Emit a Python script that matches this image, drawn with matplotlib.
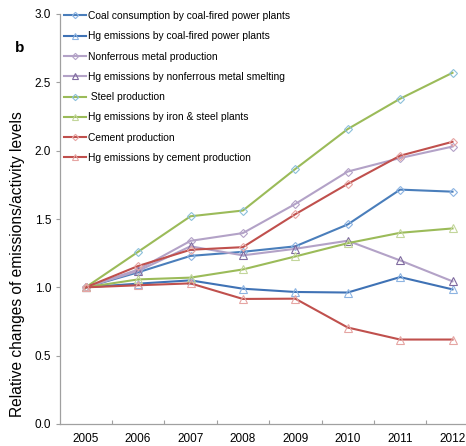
import matplotlib
matplotlib.use("Agg")
import matplotlib.pyplot as plt

plt.rcParams['font.family'] = ['Liberation Sans', 'DejaVu Sans']

years = ["2005", "2006", "2007", "2008", "2009", "2010", "2011", "2012"]

coal_consumption = [1.00, 1.11, 1.23, 1.26, 1.30, 1.46, 1.715, 1.70]
hg_coal = [1.00, 1.027, 1.051, 0.99, 0.966, 0.962, 1.075, 0.985]
nonferrous_production = [1.00, 1.13, 1.34, 1.397, 1.61, 1.847, 1.946, 2.03]
hg_nonferrous = [1.00, 1.12, 1.30, 1.234, 1.282, 1.341, 1.197, 1.044]
steel_production = [1.00, 1.26, 1.52, 1.562, 1.866, 2.158, 2.38, 2.57]
hg_iron_steel = [1.00, 1.058, 1.071, 1.131, 1.226, 1.323, 1.399, 1.431]
cement_production = [1.00, 1.156, 1.275, 1.294, 1.535, 1.757, 1.963, 2.065]
hg_cement = [1.00, 1.015, 1.029, 0.915, 0.917, 0.706, 0.618, 0.618]

labels = [
    "Coal consumption by coal-fired power plants",
    "Hg emissions by coal-fired power plants",
    "Nonferrous metal production",
    "Hg emissions by nonferrous metal smelting",
    " Steel production",
    "Hg emissions by iron & steel plants",
    "Cement production",
    "Hg emissions by cement production",
]

series = [coal_consumption, hg_coal, nonferrous_production, hg_nonferrous,
          steel_production, hg_iron_steel, cement_production, hg_cement]

# line colour, marker edge colour, marker shape
styles = [
    ("#4A7EBB", "#8DB4E2", "D"),
    ("#3F72B5", "#8DB4E2", "^"),
    ("#B3A2C7", "#B3A2C7", "D"),
    ("#B3A2C7", "#7F6A9F", "^"),
    ("#9BBB59", "#8CC0DA", "D"),
    ("#9BBB59", "#C3D69B", "^"),
    ("#C0504D", "#E6A5A3", "D"),
    ("#C0504D", "#E6A5A3", "^"),
]

W, H = 466, 446
fig = plt.figure(figsize=(W / 100, H / 100), dpi=100)
left, bottom = 59.5 / W, 22 / H
ax = fig.add_axes([left, bottom, 419.2 / W, 410 / H])

x = list(range(len(years)))
for vals, lab, (lc, mc, mk) in zip(series, labels, styles):
    ms = 4.3 if mk == "D" else 5.6
    ax.plot(x, vals, color=lc, lw=1.5, marker=mk, markersize=ms,
            markerfacecolor="none", markeredgecolor=mc, markeredgewidth=0.8,
            label=lab)

ax.set_xlim(-0.5, len(years) - 0.5)
ax.set_ylim(0, 3.0)
ax.set_yticks([0, 0.5, 1.0, 1.5, 2.0, 2.5, 3.0])
ax.set_yticklabels(["0.0", "0.5", "1.0", "1.5", "2.0", "2.5", "3.0"], fontsize=8.5)

ax.set_xticks([i + 0.5 for i in range(len(years))])
ax.set_xticklabels([])
ax.set_xticks(x, minor=True)
ax.set_xticklabels(years, minor=True, fontsize=8.5)
ax.tick_params(axis="x", which="major", direction="in", length=3, color="#A0A0A0")
ax.tick_params(axis="x", which="minor", length=0, pad=6.5)
ax.tick_params(axis="y", direction="out", length=3, color="#A0A0A0", pad=3)

for s in ("top", "right"):
    ax.spines[s].set_visible(False)
for s in ("left", "bottom"):
    ax.spines[s].set_color("#A0A0A0")
    ax.spines[s].set_linewidth(0.9)

fig.text(18 / W, 1 - 264 / H, "Relative changes of emissions/activity levels",
         rotation=90, ha="center", va="center", fontsize=11.2)
fig.text(20 / W, 1 - 48 / H, "b", ha="center", va="center",
         fontsize=11, fontweight="bold")

leg = ax.legend(loc="upper left", bbox_to_anchor=(64 / W, 1 - 11 / H),
                bbox_transform=fig.transFigure, frameon=False, fontsize=7.4,
                handlelength=2.1, handletextpad=0.25, labelspacing=1.0,
                borderaxespad=0, borderpad=0, markerscale=0.75)

fig.savefig("out.png", dpi=100)
